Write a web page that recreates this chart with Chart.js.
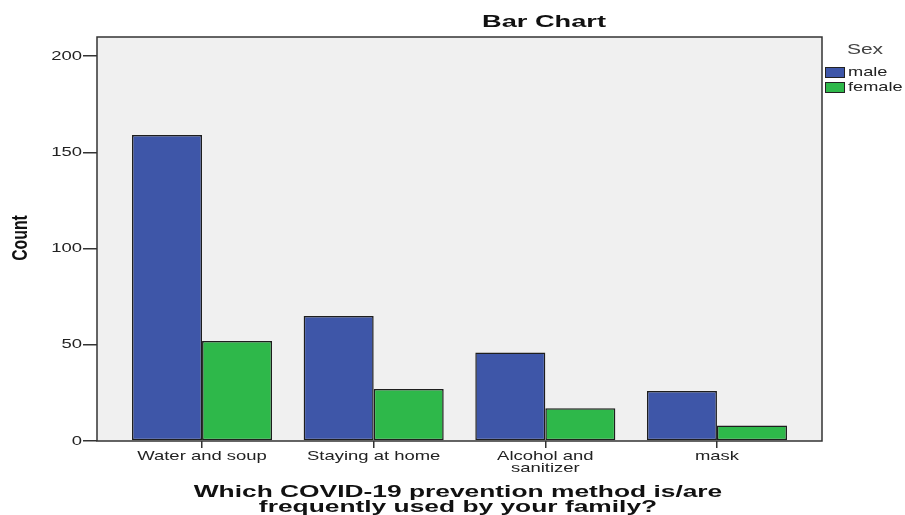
<!DOCTYPE html>
<html>
<head>
<meta charset="utf-8">
<script src="https://cdn.jsdelivr.net/npm/chart.js@4.4.1/dist/chart.umd.min.js"></script>
<style>html,body{margin:0;background:#fff}</style>
</head>
<body>
<canvas id="chart" width="905" height="515"></canvas>
<script>
// data
var categories = [['Water and soup'], ['Staying at home'], ['Alcohol and', 'sanitizer'], ['mask']];
var maleCounts = [159, 65, 46, 26];
var femaleCounts = [52, 27, 17, 8];
var yTicks = [0, 50, 100, 150, 200];
var seriesNames = ['male', 'female'];
var seriesColors = ['#3E56A8', '#2EB84A'];

var FONT = '"Liberation Sans", Arial, sans-serif';

// SPSS text is drawn wide, so stretch it horizontally
function wideText(ctx, text, x, y, font, align, sx, color) {
    ctx.save();
    ctx.font = font;
    ctx.fillStyle = color || '#222';
    ctx.textAlign = align;
    ctx.textBaseline = 'middle';
    ctx.translate(x, y);
    ctx.scale(sx, 1);
    ctx.fillText(text, 0, 0);
    ctx.restore();
}

var spssLook = {
    id: 'spssLook',
    beforeDraw: function (chart) {
        var ctx = chart.ctx, a = chart.chartArea;
        ctx.save();
        ctx.fillStyle = '#F0F0F0';
        ctx.fillRect(a.left, a.top, a.right - a.left, a.bottom - a.top);
        ctx.restore();
    },
    afterDatasetsDraw: function (chart) {
        var ctx = chart.ctx, a = chart.chartArea;
        ctx.save();
        ctx.strokeStyle = '#333';
        ctx.lineWidth = 1.5;
        ctx.strokeRect(a.left, a.top, a.right - a.left, a.bottom - a.top);
        ctx.restore();
    },
    afterDraw: function (chart) {
        var ctx = chart.ctx;
        var xs = chart.scales.x, ys = chart.scales.y;
        var reg = '13px ' + FONT;

        // y tick labels
        yTicks.forEach(function (v) {
            wideText(ctx, String(v), 82, ys.getPixelForValue(v), reg, 'right', 1.42);
        });
        // x tick labels
        categories.forEach(function (lines, i) {
            lines.forEach(function (line, j) {
                wideText(ctx, line, xs.getPixelForValue(i), 456 + j * 12, reg, 'center', 1.42);
            });
        });

        // title
        wideText(ctx, 'Bar Chart', 544, 22, 'bold 17px ' + FONT, 'center', 1.6, '#111');

        // axis titles
        wideText(ctx, 'Which COVID-19 prevention method is/are', 458, 492, 'bold 17px ' + FONT, 'center', 1.55, '#111');
        wideText(ctx, 'frequently used by your family?', 458, 507, 'bold 17px ' + FONT, 'center', 1.55, '#111');

        ctx.save();
        ctx.translate(21, 238);
        ctx.rotate(-Math.PI / 2);
        wideText(ctx, 'Count', 0, 0, 'bold 22px ' + FONT, 'center', 0.72, '#111');
        ctx.restore();

        // legend
        wideText(ctx, 'Sex', 865, 50, '14px ' + FONT, 'center', 1.5, '#444');
        seriesNames.forEach(function (name, i) {
            var top = 67 + i * 15;
            ctx.save();
            ctx.fillStyle = seriesColors[i];
            ctx.fillRect(825, top, 20, 10);
            ctx.strokeStyle = '#222';
            ctx.lineWidth = 1;
            ctx.strokeRect(825.5, top + 0.5, 19, 10);
            ctx.restore();
            wideText(ctx, name, 848, top + 5, reg, 'left', 1.4);
        });
    }
};

function points(values) {
    return values.map(function (v, i) { return { x: i, y: v }; });
}

var ctx = document.getElementById('chart').getContext('2d');
var chart = new Chart(ctx, {
    type: 'bar',
    data: {
        datasets: [{
            label: seriesNames[0],
            data: points(maleCounts),
            backgroundColor: seriesColors[0],
            borderColor: '#1E1E1E',
            borderWidth: 1.5,
            borderSkipped: false,
            categoryPercentage: 0.816,
            barPercentage: 1
        },
        {
            label: seriesNames[1],
            data: points(femaleCounts),
            backgroundColor: seriesColors[1],
            borderColor: '#1E1E1E',
            borderWidth: 1.5,
            borderSkipped: false,
            categoryPercentage: 0.816,
            barPercentage: 1
        }]
    },
    options: {
        responsive: false,
        animation: false,
        devicePixelRatio: 1,
        layout: { padding: { left: 0, right: 83, top: 37, bottom: 0 } },
        plugins: {
            legend: { display: false },
            title: { display: false },
            tooltip: { enabled: false }
        },
        scales: {
            x: {
                type: 'linear',
                bounds: 'data',
                offset: false,
                min: -0.612,
                max: categories.length - 1 + 0.612,
                afterBuildTicks: function (s) {
                    s.ticks = categories.map(function (c, i) { return { value: i }; });
                },
                afterFit: function (s) { s.height = 74; },
                ticks: { display: false },
                border: { display: false },
                grid: { offset: false, drawOnChartArea: false, tickLength: 7, color: '#333', lineWidth: 1.5 }
            },
            y: {
                bounds: 'data',
                min: 0,
                max: 210,
                afterBuildTicks: function (s) {
                    s.ticks = yTicks.map(function (v) { return { value: v }; });
                },
                afterFit: function (s) { s.width = 97; },
                ticks: { display: false },
                border: { display: false },
                grid: { drawOnChartArea: false, tickLength: 14, color: '#333', lineWidth: 1.5 }
            }
        }
    },
    plugins: [spssLook]
});
</script>
</body>
</html>
